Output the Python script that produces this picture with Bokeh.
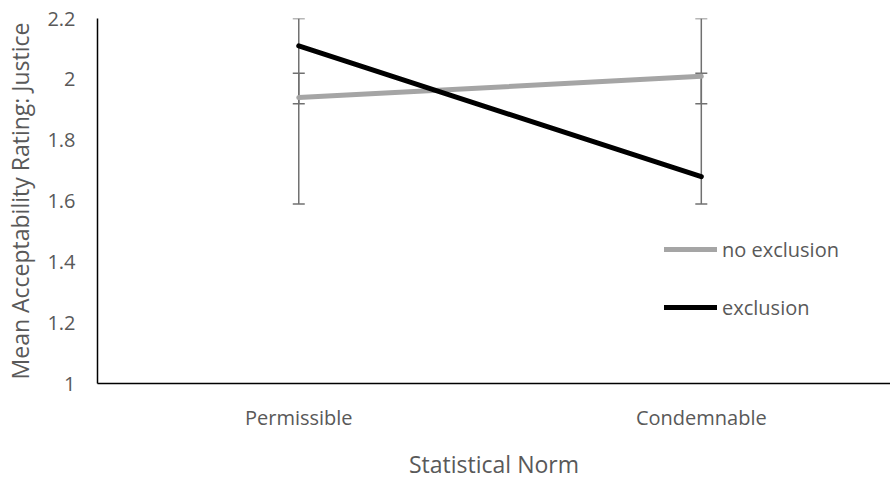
from bokeh.plotting import figure
from bokeh.models import FixedTicker, Legend, LegendItem, ColumnDataSource, Whisker
from bokeh.embed import file_html
from bokeh.resources import INLINE

categories = ["Permissible", "Condemnable"]
x_pos = [0, 1]
no_exclusion = [1.94, 2.01]
exclusion = [2.11, 1.68]
no_excl_lower = [1.92, 1.92]
no_excl_upper = [2.02, 2.02]
excl_lower = [1.59, 1.59]
excl_upper = [2.20, 2.20]
y_ticks = [1, 1.2, 1.4, 1.6, 1.8, 2, 2.2]
y_tick_labels = ["1", "1.2", "1.4", "1.6", "1.8", "2", "2.2"]

FONT = "Open Sans"
TXT = "#595959"

p = figure(width=890, height=482, output_backend="svg", toolbar_location=None,
           x_range=(-0.5, 1.47), y_range=(1, 2.2),
           min_border_left=97, min_border_right=0, min_border_top=18, min_border_bottom=97)
p.outline_line_color = None
p.grid.visible = False

# error bars
for lo, up in [(excl_lower, excl_upper), (no_excl_lower, no_excl_upper)]:
    src = ColumnDataSource(dict(x=x_pos, lower=lo, upper=up))
    w = Whisker(source=src, base="x", lower="lower", upper="upper",
                line_color="#707070", line_width=1.5)
    for h in (w.upper_head, w.lower_head):
        h.line_color = "#707070"
        h.line_width = 1.5
        h.size = 12
    p.add_layout(w)

r1 = p.line(x_pos, no_exclusion, line_color="#a5a5a5", line_width=5, line_cap="round")
r2 = p.line(x_pos, exclusion, line_color="#000000", line_width=5, line_cap="round")

legend = Legend(items=[LegendItem(label="no exclusion", renderers=[r1]),
                       LegendItem(label="exclusion", renderers=[r2])],
                location=(567, 61), glyph_width=53, glyph_height=30, label_height=30,
                spacing=28, label_standoff=5, padding=0, margin=0,
                background_fill_alpha=0, border_line_color=None,
                label_text_font=FONT, label_text_font_size="20px", label_text_color=TXT)
p.add_layout(legend)

p.yaxis.ticker = FixedTicker(ticks=y_ticks)
p.yaxis.major_label_overrides = {t: l for t, l in zip(y_ticks, y_tick_labels)}
p.xaxis.ticker = FixedTicker(ticks=x_pos)
p.xaxis.major_label_overrides = {x: c for x, c in zip(x_pos, categories)}

for ax in (p.xaxis[0], p.yaxis[0]):
    ax.axis_line_color = "black"
    ax.axis_line_width = 1.5
    ax.major_tick_line_color = None
    ax.minor_tick_line_color = None
    ax.major_tick_out = 0
    ax.major_tick_in = 0
    ax.major_label_text_font = FONT
    ax.major_label_text_font_size = "20px"
    ax.major_label_text_color = TXT
    ax.axis_label_text_font = FONT
    ax.axis_label_text_color = TXT
    ax.axis_label_text_font_style = "normal"

p.yaxis.axis_label = "Mean Acceptability Rating: Justice"
p.xaxis.axis_label = "Statistical Norm"
p.yaxis.axis_label_text_font_size = "23px"
p.xaxis.axis_label_text_font_size = "23px"
p.yaxis.major_label_standoff = 22
p.yaxis.axis_label_standoff = 8
p.xaxis.major_label_standoff = 20
p.xaxis.axis_label_standoff = 14

open("out.html", "w").write(file_html(p, INLINE))
